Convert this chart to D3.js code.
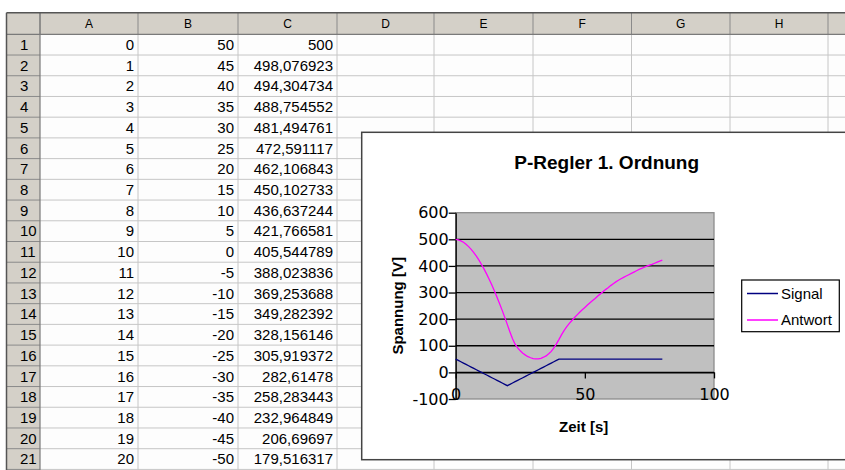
<!DOCTYPE html>
<html lang="de">
<head>
    <meta charset="UTF-8">
    <title>P-Regler 1. Ordnung</title>
    <script src="https://d3js.org/d3.v7.min.js"></script>
    <style>
        body { margin: 0; background: #fff; }
        text { font-family: "Liberation Sans", Arial, sans-serif; }
    </style>
</head>
<body>
    <div id="chart"></div>

    <script>
        // spreadsheet contents (columns A, B, C)
        var colLetters = ["A", "B", "C", "D", "E", "F", "G", "H", ""];
        var tableA = [0, 1, 2, 3, 4, 5, 6, 7, 8, 9, 10, 11, 12, 13, 14, 15, 16, 17, 18, 19, 20];
        var tableB = [50, 45, 40, 35, 30, 25, 20, 15, 10, 5, 0, -5, -10, -15, -20, -25, -30, -35, -40, -45, -50];
        var tableC = [500, 498.076923, 494.304734, 488.754552, 481.494761, 472.591117, 462.106843,
            450.102733, 436.637244, 421.766581, 405.544789, 388.023836, 369.253688, 349.282392,
            328.156146, 305.919372, 282.61478, 258.283443, 232.964849, 206.69697, 179.516317];

        // chart series, time 0..80 s
        var zeit = [0, 1, 2, 3, 4, 5, 6, 7, 8, 9, 10, 11, 12, 13, 14, 15, 16, 17, 18, 19, 20,
            21, 22, 23, 24, 25, 26, 27, 28, 29, 30, 31, 32, 33, 34, 35, 36, 37, 38, 39, 40,
            41, 42, 43, 44, 45, 46, 47, 48, 49, 50, 51, 52, 53, 54, 55, 56, 57, 58, 59, 60,
            61, 62, 63, 64, 65, 66, 67, 68, 69, 70, 71, 72, 73, 74, 75, 76, 77, 78, 79, 80];
        var signal = [50, 45, 40, 35, 30, 25, 20, 15, 10, 5, 0, -5, -10, -15, -20, -25, -30, -35, -40, -45, -50,
            -45, -40, -35, -30, -25, -20, -15, -10, -5, 0, 5, 10, 15, 20, 25, 30, 35, 40, 45, 50,
            50, 50, 50, 50, 50, 50, 50, 50, 50, 50, 50, 50, 50, 50, 50, 50, 50, 50, 50, 50,
            50, 50, 50, 50, 50, 50, 50, 50, 50, 50, 50, 50, 50, 50, 50, 50, 50, 50, 50, 50];
        var antwortRest = [152, 126, 106, 92, 81, 72, 65, 59, 55, 52, 51, 51, 53, 57, 62, 70, 79, 92, 107, 124,
            142, 158, 172, 184, 195, 206, 216, 226, 235, 244, 253, 262, 270, 278, 287, 295, 303, 311, 318, 326,
            333, 340, 346, 352, 357, 362, 367, 372, 377, 382, 387, 391, 395, 399, 403, 406, 410, 414, 418, 422];
        var antwort = tableC.concat(antwortRest);

        var yTicks = [-100, 0, 100, 200, 300, 400, 500, 600];
        var xTicks = [0, 50, 100];
        var seriesNames = ["Signal", "Antwort"];
        var seriesColors = ["#000080", "#ff00ff"];

        var w = 845, h = 470;
        var svg = d3.select("#chart").append("svg")
            .attr("width", w)
            .attr("height", h);

        // ---------- spreadsheet ----------
        var colEdges = [40, 138, 238, 337, 434, 533, 631.5, 730, 828, 927];
        var headTop = 12.7, headBottom = 34.3, rowH = 20.72, left = 6.5;
        var rowTop = function(i) { return headBottom + i * rowH; };

        var sheet = svg.append("g");

        // cells
        sheet.append("rect")
            .attr("x", 40).attr("y", headBottom)
            .attr("width", w - 40).attr("height", h - headBottom)
            .attr("fill", "#fdfdfd");

        // grid lines
        sheet.selectAll("line.h")
            .data(tableA)
            .enter().append("line")
            .attr("x1", 40).attr("x2", w)
            .attr("y1", function(d, i) { return rowTop(i + 1); })
            .attr("y2", function(d, i) { return rowTop(i + 1); })
            .attr("stroke", "#c6c6c6");
        sheet.selectAll("line.v")
            .data(colEdges.slice(1))
            .enter().append("line")
            .attr("x1", function(d) { return d; }).attr("x2", function(d) { return d; })
            .attr("y1", headBottom).attr("y2", h)
            .attr("stroke", "#c6c6c6");

        // column header
        sheet.append("rect")
            .attr("x", left).attr("y", headTop)
            .attr("width", w - left).attr("height", headBottom - headTop)
            .attr("fill", "#d4d0c8");
        sheet.append("rect")
            .attr("x", left).attr("y", headBottom)
            .attr("width", 40 - left).attr("height", h - headBottom)
            .attr("fill", "#d4d0c8");

        sheet.selectAll("line.ch")
            .data(colEdges)
            .enter().append("line")
            .attr("x1", function(d) { return d; }).attr("x2", function(d) { return d; })
            .attr("y1", headTop).attr("y2", headBottom)
            .attr("stroke", "#8a8a8a");
        sheet.selectAll("line.rh")
            .data(tableA)
            .enter().append("line")
            .attr("x1", left).attr("x2", 40)
            .attr("y1", function(d, i) { return rowTop(i + 1); })
            .attr("y2", function(d, i) { return rowTop(i + 1); })
            .attr("stroke", "#8a8a8a");

        sheet.append("line")
            .attr("x1", left).attr("x2", w).attr("y1", headBottom).attr("y2", headBottom)
            .attr("stroke", "#7a7a7a").attr("stroke-width", 1.2);
        sheet.append("line")
            .attr("x1", 40).attr("x2", 40).attr("y1", headTop).attr("y2", h)
            .attr("stroke", "#7a7a7a").attr("stroke-width", 1.2);
        sheet.append("line")
            .attr("x1", left).attr("x2", w).attr("y1", headTop).attr("y2", headTop)
            .attr("stroke", "#555").attr("stroke-width", 1.5);
        sheet.append("line")
            .attr("x1", left).attr("x2", left).attr("y1", headTop).attr("y2", h)
            .attr("stroke", "#555").attr("stroke-width", 1.5);

        sheet.selectAll("text.col")
            .data(colLetters)
            .enter().append("text")
            .attr("x", function(d, i) { return (colEdges[i] + colEdges[i + 1]) / 2; })
            .attr("y", 28.3)
            .attr("text-anchor", "middle")
            .style("font-size", "12px")
            .text(function(d) { return d; });

        sheet.selectAll("text.row")
            .data(tableA)
            .enter().append("text")
            .attr("x", 20)
            .attr("y", function(d, i) { return rowTop(i) + 15.7; })
            .style("font-size", "15px")
            .text(function(d, i) { return i + 1; });

        var fmt = function(v) { return String(v).replace(".", ","); };
        var columns = [tableA, tableB, tableC];
        columns.forEach(function(col, c) {
            sheet.selectAll("text.c" + c)
                .data(col)
                .enter().append("text")
                .attr("x", colEdges[c + 1] - 4)
                .attr("y", function(d, i) { return rowTop(i) + 15.7; })
                .attr("text-anchor", "end")
                .style("font-size", "15px")
                .text(fmt);
        });

        // ---------- chart ----------
        var chart = svg.append("g");
        chart.append("rect")
            .attr("x", 361.7).attr("y", 132.3)
            .attr("width", 520).attr("height", 327.4)
            .attr("fill", "#fff")
            .attr("stroke", "#444").attr("stroke-width", 1.5);

        chart.append("text")
            .attr("x", 606.7).attr("y", 169)
            .attr("text-anchor", "middle")
            .style("font-size", "19px").style("font-weight", "bold")
            .text("P-Regler 1. Ordnung");

        var xScale = d3.scaleLinear().domain([0, 100]).range([455.7, 714]);
        var yScale = d3.scaleLinear().domain([-100, 600]).range([399, 212.7]);

        chart.append("rect")
            .attr("x", xScale(0)).attr("y", yScale(600))
            .attr("width", xScale(100) - xScale(0))
            .attr("height", yScale(-100) - yScale(600))
            .attr("fill", "#c0c0c0")
            .attr("stroke", "#8c8c8c").attr("stroke-width", 1.3);

        // gridlines
        chart.selectAll("line.grid")
            .data(yTicks.filter(function(d) { return d > -100 && d < 600; }))
            .enter().append("line")
            .attr("x1", xScale(0)).attr("x2", xScale(100))
            .attr("y1", function(d) { return yScale(d); })
            .attr("y2", function(d) { return yScale(d); })
            .attr("stroke", "#000").attr("stroke-width", 1.3);

        var plain = function(d) { return String(d); };

        // y axis
        var yAxis = d3.axisLeft(yScale).tickValues(yTicks).tickFormat(plain).tickSize(7).tickSizeOuter(0);
        var yg = chart.append("g")
            .attr("transform", "translate(" + xScale(0) + ",0)")
            .call(yAxis);
        yg.select(".domain").attr("stroke", "#000").attr("stroke-width", 1.3);
        yg.selectAll(".tick line").attr("stroke", "#000").attr("stroke-width", 1.3);
        yg.selectAll("text")
            .attr("x", -7)
            .style("font-family", "'DejaVu Sans', sans-serif")
            .style("font-size", "16px")
            .attr("fill", "#000");

        // x axis at y = 0, labels below the plot area
        var xAxis = d3.axisBottom(xScale).tickValues(xTicks).tickFormat(plain).tickSize(6).tickSizeOuter(0);
        var xg = chart.append("g")
            .attr("transform", "translate(0," + yScale(0) + ")")
            .call(xAxis);
        xg.select(".domain").attr("stroke", "#000").attr("stroke-width", 1.3);
        xg.selectAll(".tick line").attr("stroke", "#000").attr("stroke-width", 1.3);
        xg.selectAll("text")
            .attr("y", yScale(-100) - yScale(0) - 10)
            .attr("dy", "0.71em")
            .style("font-family", "'DejaVu Sans', sans-serif")
            .style("font-size", "16px")
            .attr("fill", "#000");

        // axis titles
        chart.append("text")
            .attr("x", 583.7).attr("y", 431.7)
            .attr("text-anchor", "middle")
            .style("font-size", "15px").style("font-weight", "bold")
            .text("Zeit [s]");
        chart.append("text")
            .attr("transform", "translate(403," + ((yScale(600) + yScale(-100)) / 2) + ") rotate(-90)")
            .attr("text-anchor", "middle")
            .style("font-size", "15px").style("font-weight", "bold")
            .text("Spannung [V]");

        // lines
        var series = [signal, antwort];
        var line = d3.line()
            .x(function(d, i) { return xScale(zeit[i]); })
            .y(function(d) { return yScale(d); });
        chart.selectAll("path.series")
            .data(series)
            .enter().append("path")
            .attr("d", line)
            .attr("fill", "none")
            .attr("stroke", function(d, i) { return seriesColors[i]; })
            .attr("stroke-width", 1.3);

        // legend
        var legend = chart.append("g");
        legend.append("rect")
            .attr("x", 741.7).attr("y", 280)
            .attr("width", 97.6).attr("height", 51.7)
            .attr("fill", "#fff")
            .attr("stroke", "#000").attr("stroke-width", 1.2);
        var items = legend.selectAll("g.item")
            .data(seriesNames)
            .enter().append("g")
            .attr("transform", function(d, i) { return "translate(0," + (293.5 + i * 26.5) + ")"; });
        items.append("line")
            .attr("x1", 747).attr("x2", 778)
            .attr("stroke", function(d, i) { return seriesColors[i]; })
            .attr("stroke-width", 1.5);
        items.append("text")
            .attr("x", 781).attr("y", 5)
            .style("font-size", "15px")
            .text(function(d) { return d; });
    </script>
</body>
</html>
